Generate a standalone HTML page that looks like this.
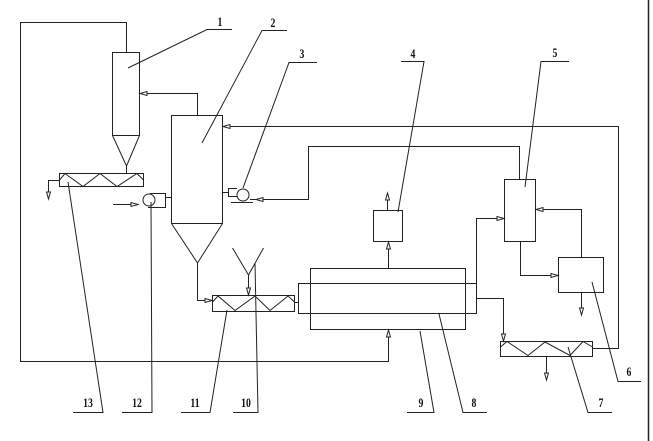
<!DOCTYPE html>
<html><head><meta charset="utf-8"><style>
html,body{margin:0;padding:0;background:#fff;}
svg{display:block;}
text{font-family:"Liberation Serif",serif;font-weight:bold;font-size:13px;fill:#111;}
</style></head><body>
<svg width="653" height="441" viewBox="0 0 653 441" xmlns="http://www.w3.org/2000/svg">
<g fill="none" stroke="#222" stroke-width="1">
<!-- right border -->
<line x1="648.5" y1="0" x2="648.5" y2="441" stroke-width="1.5"/>
<!-- outer loop -->
<path d="M126.5,52 V22.5 H20.5 V361.5 H388.5 V329"/>
<!-- vessel 1 -->
<rect x="112.5" y="52.5" width="27" height="83"/>
<path d="M112.5,135.5 L126.5,166 L139.5,135.5"/>
<path d="M126.5,166 V173"/>
<!-- screw 13 -->
<rect x="59.5" y="173.5" width="84" height="13"/>
<path d="M59.5,180 L65,173.5 L83,186.5 L100,173.5 L117,186.5 L137,173.5 L143.5,180"/>
<path d="M59.5,180.5 H48.5 V198"/>
<!-- vessel 2 -> vessel 1 -->
<path d="M197.5,115 V93.5 H139.5"/>
<!-- vessel 2 -->
<rect x="171.5" y="115.5" width="51" height="108"/>
<path d="M171.5,223.5 L197.5,263 L222.5,223.5"/>
<path d="M197.5,263 V300.5 H212"/>
<!-- recycle line -->
<path d="M592,348.5 H618.5 V126.5 H222.5"/>
<!-- fan 3 -->
<circle cx="243" cy="195" r="6"/>
<path d="M237,188.5 H228.5 V196.5 H237"/>
<path d="M231,202.5 H253"/>
<path d="M222.5,192.5 H228.5"/>
<path d="M250,199.5 H308.5 V146.5 H519.5 V179"/>
<!-- box 5 -->
<rect x="504.5" y="179.5" width="31" height="62"/>
<path d="M476.5,283 V218.5 H504"/>
<path d="M520.5,241.5 V275.5 H558"/>
<!-- box 6 -->
<rect x="558.5" y="257.5" width="45" height="35"/>
<path d="M581.5,257 V209.5 H535.5"/>
<path d="M581.5,292.5 V315"/>
<!-- box 4 -->
<rect x="373.5" y="210.5" width="29" height="31"/>
<path d="M387.5,210 V193"/>
<path d="M388.5,268 V241.5"/>
<!-- tubes 9 and 8 -->
<rect x="310.5" y="268.5" width="155" height="61"/>
<rect x="298.5" y="283.5" width="178" height="30"/>
<path d="M476.5,298.5 H503.5 V341"/>
<!-- screw 11 -->
<rect x="212.5" y="295.5" width="82" height="16"/>
<path d="M212.5,302 L218,296 L235,310.5 L255,296 L270,310.5 L288,296 L294.5,302"/>
<path d="M294.5,302.5 H298.5"/>
<!-- funnel 10 -->
<path d="M232.5,248 L248.5,275 L263.5,248"/>
<path d="M248.5,275 V295"/>
<!-- screw 7 -->
<rect x="500.5" y="341.5" width="92" height="15"/>
<path d="M500.5,347 L507,341.5 L528,355.5 L545,342 L570,355.5 L583,341.5 L592.5,347"/>
<path d="M546.5,356.5 V380"/>
<!-- fan 12 -->
<circle cx="149" cy="200" r="6"/>
<path d="M150,193.5 H165.5 V207.5 H148"/>
<path d="M165.5,197.5 H171.5"/>
<path d="M113,204.5 H138"/>
<!-- leaders -->
<path d="M128,68 L207,29.5 H232"/>
<path d="M202,143 L262,30.5 H287"/>
<path d="M243,188 L289,62.5 H317"/>
<path d="M398,212 L424,61.5 H401"/>
<path d="M525,187 L541,61.5 H569"/>
<path d="M592,282 L618,381.5 H641"/>
<path d="M568,347 L588,412.5 H612"/>
<path d="M439,314 L463,412.5 H487"/>
<path d="M420,331 L434,412.5 H407"/>
<path d="M255,263 L258,412.5 H233"/>
<path d="M227,310 L210,412.5 H181"/>
<path d="M151,202 L152,412.5 H122"/>
<path d="M68,182 L103,412.5 H73"/>
</g>
<!-- arrows -->
<g fill="#fff" stroke="#222" stroke-width="1">
<polygon points="48.5,199 46.5,192 50.5,192"/>
<polygon points="140,93.5 147,91.5 147,95.5"/>
<polygon points="212,300.5 205,298.5 205,302.5"/>
<polygon points="223,126.5 230,124.5 230,128.5"/>
<polygon points="256,199.5 263,197.5 263,201.5"/>
<polygon points="504,218.5 497,216.5 497,220.5"/>
<polygon points="558,275.5 551,273.5 551,277.5"/>
<polygon points="536,209.5 543,207.5 543,211.5"/>
<polygon points="581.5,315 579.5,308 583.5,308"/>
<polygon points="387.5,193 385.5,200 389.5,200"/>
<polygon points="388.5,242 386.5,249 390.5,249"/>
<polygon points="388.5,330 386.5,337 390.5,337"/>
<polygon points="503.5,341 501.5,334 505.5,334"/>
<polygon points="248.5,295 246.5,288 250.5,288"/>
<polygon points="546.5,380 544.5,373 548.5,373"/>
<polygon points="138,204.5 131,202.5 131,206.5"/>
</g>
<!-- labels -->
<g text-anchor="middle">
<text transform="translate(220,26) scale(0.75,1)">1</text>
<text transform="translate(273,27) scale(0.75,1)">2</text>
<text transform="translate(302,58) scale(0.75,1)">3</text>
<text transform="translate(413,58) scale(0.75,1)">4</text>
<text transform="translate(555,57) scale(0.75,1)">5</text>
<text transform="translate(629,376) scale(0.75,1)">6</text>
<text transform="translate(601,407) scale(0.75,1)">7</text>
<text transform="translate(474,407) scale(0.75,1)">8</text>
<text transform="translate(421,407) scale(0.75,1)">9</text>
<text transform="translate(246,407) scale(0.75,1)">10</text>
<text transform="translate(195,407) scale(0.75,1)">11</text>
<text transform="translate(137,407) scale(0.75,1)">12</text>
<text transform="translate(88,407) scale(0.75,1)">13</text>
</g>
</svg>
</body></html>
